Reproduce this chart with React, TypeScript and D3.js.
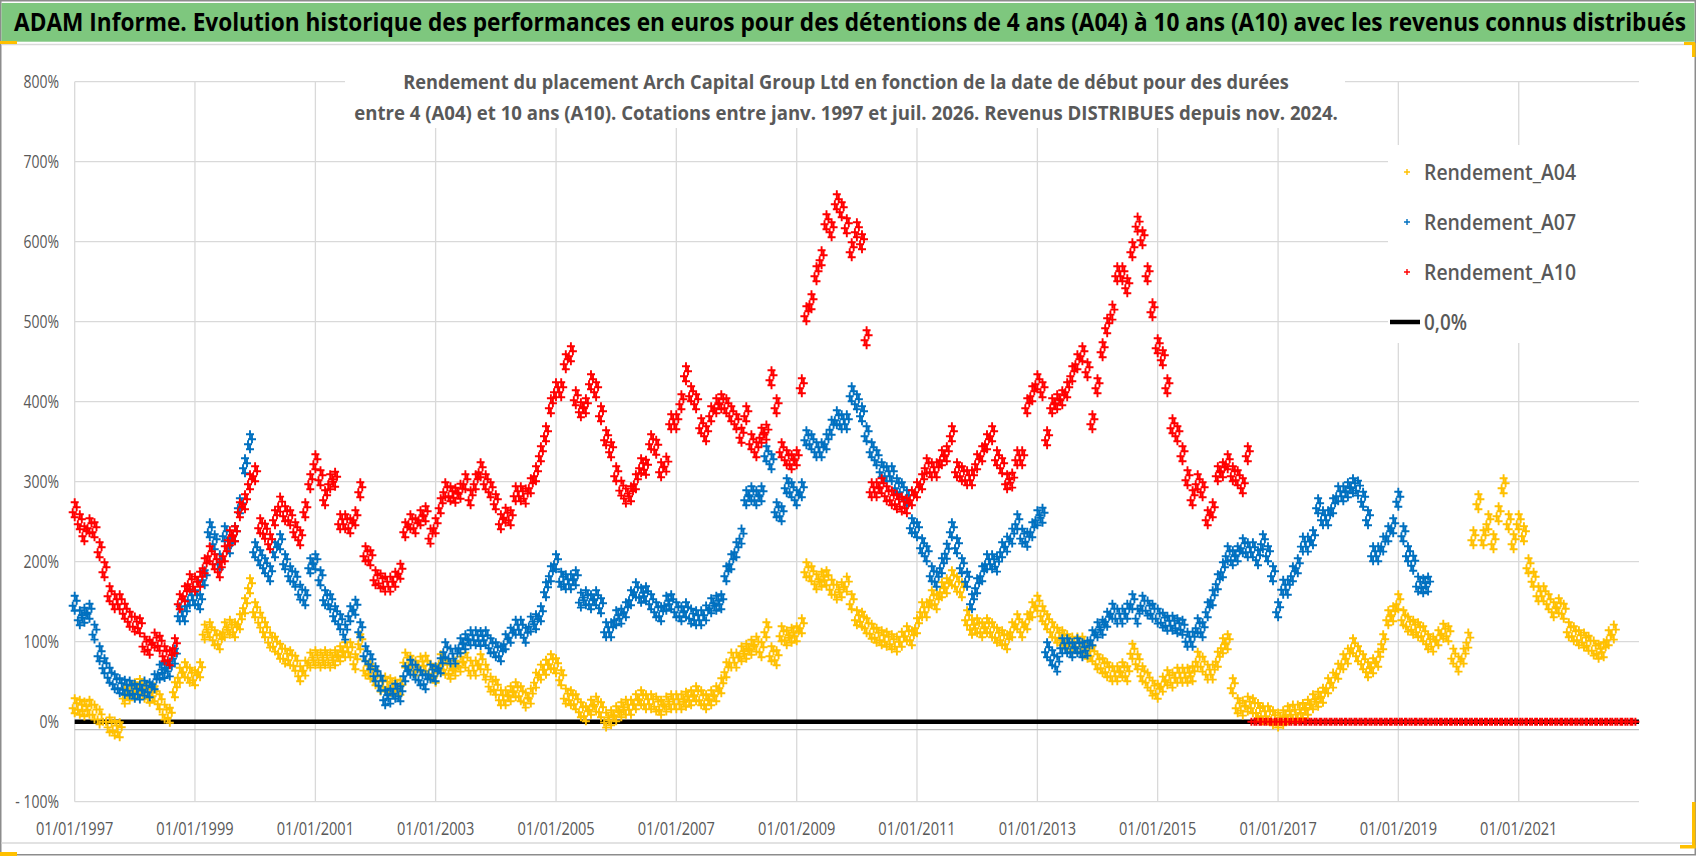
import React, { useLayoutEffect, useRef, useState } from "react";
import * as d3 from "d3";

const W = 1698;
const H = 856;
const FONT = "'Open Sans', 'Noto Sans', sans-serif";

const MONTH0 = new Date(1997, 0, 1);
const X_END = new Date(2023, 0, 1);
const TICK_YEARS = [1997, 1999, 2001, 2003, 2005, 2007, 2009, 2011, 2013, 2015, 2017, 2019, 2021];
const Y_TICKS = [-100, 0, 100, 200, 300, 400, 500, 600, 700, 800];
const AXIS_CROSS = -10;

const TITLE = "ADAM Informe. Evolution historique des performances en euros pour des détentions de 4 ans (A04) à 10 ans (A10) avec les revenus connus distribués";
const SUBTITLE_1 = "Rendement du placement Arch Capital Group Ltd en fonction de la date de début pour des durées";
const SUBTITLE_2 = "entre 4 (A04) et 10 ans (A10). Cotations entre janv. 1997 et juil. 2026. Revenus DISTRIBUES depuis nov. 2024.";

// Monthly readings (%), first value = January 1997
const RENDEMENT_A04 = [
  20, 18, 16, 18, 12, 6, 0, -4, -8, -10, 32, 36,
  40, 44, 38, 33, 35, 25, 12, 8, 40, 58, 65, 58,
  55, 65, 112, 115, 105, 100, 115, 118, 115, 125, 145, 170,
  140, 127, 115, 102, 97, 88, 82, 80, 73, 60, 67, 77,
  80, 77, 80, 77, 80, 85, 90, 90, 75, 100, 67, 63,
  55, 47, 47, 45, 42, 43, 77, 73, 67, 72, 73, 63,
  58, 75, 68, 63, 67, 72, 77, 67, 67, 75, 62, 47,
  43, 30, 30, 35, 40, 35, 27, 32, 52, 62, 68, 75,
  70, 55, 32, 30, 25, 15, 10, 18, 22, 15, 2, 5,
  10, 15, 18, 18, 25, 30, 25, 25, 22, 18, 22, 25,
  25, 25, 28, 30, 35, 30, 25, 30, 35, 45, 65, 77,
  77, 85, 88, 93, 97, 90, 115, 85, 80, 110, 105, 108,
  110, 120, 190, 185, 175, 178, 180, 168, 162, 165, 172, 150,
  130, 128, 120, 113, 108, 105, 103, 100, 97, 103, 110, 105,
  120, 140, 140, 155, 150, 165, 170, 180, 172, 165, 130, 118,
  120, 115, 120, 115, 108, 105, 100, 115, 125, 115, 125, 140,
  148, 135, 125, 115, 108, 105, 100, 97, 97, 97, 88, 85,
  75, 70, 65, 60, 60, 65, 60, 88, 75, 60, 52, 42,
  38, 47, 55, 52, 58, 58, 58, 60, 78, 72, 62, 62,
  78, 95, 100, 45, 20, 17, 22, 20, 14, 10, 10, 5,
  2, 5, 10, 12, 12, 14, 18, 25, 28, 33, 45, 52,
  63, 75, 82, 95, 85, 75, 65, 70, 78, 100, 130, 135,
  150, 130, 122, 118, 115, 110, 100, 97, 105, 113, 110, 82,
  72, 82, 102, 230, 275, 230, 250, 225, 260, 295, 250, 225,
  250, 235, 195, 178, 160, 160, 150, 140, 145, 138, 115, 110,
  105, 102, 98, 92, 88, 90, 105, 112,
];

const RENDEMENT_A07 = [
  148, 130, 133, 138, 112, 85, 70, 58, 50, 45, 43, 42,
  38, 37, 42, 40, 50, 62, 64, 66, 82, 135, 135, 155,
  155, 150, 180, 240, 225, 200, 235, 220, 235, 270, 320, 350,
  215, 205, 195, 185, 215, 225, 200, 185, 178, 162, 155, 195,
  200, 180, 155, 150, 135, 125, 112, 135, 143, 115, 85, 75,
  60, 48, 30, 32, 38, 35, 60, 68, 62, 55, 50, 62,
  60, 70, 90, 82, 82, 95, 100, 105, 105, 104, 105, 95,
  90, 85, 100, 108, 118, 118, 108, 122, 125, 135, 165, 185,
  200, 178, 175, 175, 180, 152, 155, 150, 155, 145, 115, 115,
  130, 132, 140, 155, 165, 158, 160, 150, 140, 135, 148, 150,
  140, 135, 140, 132, 130, 130, 136, 145, 148, 150, 185, 200,
  215, 232, 280, 285, 280, 285, 335, 325, 265, 260, 295, 290,
  280, 290, 355, 350, 340, 340, 350, 368, 380, 375, 375, 410,
  400, 385, 360, 340, 330, 315, 310, 310, 295, 290, 280, 245,
  240, 220, 210, 185, 178, 195, 213, 240, 220, 195, 178, 150,
  170, 185, 200, 200, 197, 215, 222, 232, 250, 232, 228, 240,
  255, 258, 90, 80, 72, 95, 95, 90, 95, 90, 92, 105,
  115, 118, 128, 138, 132, 132, 138, 150, 132, 148, 142, 138,
  132, 127, 123, 123, 120, 118, 103, 103, 120, 115, 140, 155,
  175, 190, 210, 205, 210, 220, 215, 215, 205, 225, 210, 185,
  140, 168, 168, 185, 195, 222, 222, 230, 270, 255, 255, 270,
  285, 285, 290, 295, 292, 278, 255, 210, 210, 222, 235, 245,
  278, 235, 210, 198, 172, 170, 172,
];

const RENDEMENT_A10 = [
  265, 250, 235, 245, 240, 215, 190, 160, 150, 150, 138, 128,
  122, 120, 97, 93, 102, 98, 85, 80, 95, 150, 160, 175,
  172, 178, 195, 210, 200, 190, 210, 230, 235, 265, 275, 300,
  310, 245, 238, 225, 255, 272, 260, 255, 240, 230, 265, 300,
  325, 305, 280, 300, 303, 250, 250, 245, 255, 290, 210, 205,
  180, 176, 172, 172, 178, 188, 240, 250, 245, 255, 260, 232,
  245, 270, 290, 285, 283, 288, 300, 280, 300, 315, 300, 290,
  275, 250, 258, 255, 285, 285, 282, 295, 310, 335, 360, 395,
  415, 415, 450, 460, 405, 390, 395, 425, 415, 385, 355, 340,
  310, 292, 282, 285, 300, 320, 318, 350, 343, 315, 322, 375,
  375, 400, 435, 410, 400, 370, 360, 385, 395, 400, 395, 385,
  375, 358, 385, 350, 340, 358, 362, 430, 395, 340, 330, 325,
  330, 420, 510, 525, 560, 580, 625, 615, 650, 640, 620, 590,
  615, 600, 480, 290, 290, 295, 285, 280, 275, 272, 270, 280,
  290, 300, 320, 315, 315, 330, 335, 360, 315, 310, 305, 305,
  325, 335, 350, 360, 330, 320, 300, 302, 330, 330, 395, 410,
  425, 415, 355, 395, 400, 405, 415, 435, 450, 460, 440, 375,
  420, 465, 495, 512, 560, 560, 545, 590, 622, 605, 560, 515,
  470, 455, 420, 370, 360, 335, 305, 280, 300, 290, 255, 265,
  310, 315, 325, 310, 305, 295, 335,
  0, 0, 0, 0, 0,
  0, 0, 0, 0, 0, 0, 0, 0, 0, 0, 0, 0,
  0, 0, 0, 0, 0, 0, 0, 0, 0, 0, 0, 0,
  0, 0, 0, 0, 0, 0, 0, 0, 0, 0, 0, 0,
  0, 0, 0, 0, 0, 0, 0, 0, 0, 0, 0, 0,
  0, 0, 0, 0, 0, 0, 0, 0, 0, 0, 0, 0,
  0, 0, 0, 0, 0, 0, 0, 0, 0, 0, 0, 0,
];

const SERIES_NAMES = ["Rendement_A04", "Rendement_A07", "Rendement_A10"];
const SERIES_COLORS = ["#FFC000", "#0070C0", "#FF0000"];
const SERIES_VALUES = [RENDEMENT_A04, RENDEMENT_A07, RENDEMENT_A10];
const ZERO_LABEL = "0,0%";

// glyph: each monthly reading stands for a month of daily points
const CLUSTER: [number, number][] = [[0, -7.5], [2, -2.5], [-2, 2.5], [0, 7.5]];
const FLAT: [number, number][] = [[-1.5, 0], [1.5, 0]];

type FitProps = {
  x: number;
  y: number;
  width: number;
  anchor?: "start" | "middle" | "end";
  fontSize: number;
  fontWeight?: number;
  fill: string;
  children: string;
};

function FitText({ x, y, width, anchor = "start", fontSize, fontWeight = 400, fill, children }: FitProps) {
  const ref = useRef<SVGTextElement>(null);
  const [s, setS] = useState(1);
  useLayoutEffect(() => {
    const measure = () => {
      if (ref.current) {
        const w = ref.current.getComputedTextLength();
        if (w > 0) setS(width / w);
      }
    };
    measure();
    if ((document as any).fonts && (document as any).fonts.ready) {
      (document as any).fonts.ready.then(measure);
    }
  }, [width, children]);
  return (
    <text ref={ref} transform={`translate(${x},${y}) scale(${s},1)`} textAnchor={anchor} fontSize={fontSize} fontWeight={fontWeight} fill={fill}>
      {children}
    </text>
  );
}

export default function App() {
  const x = d3.scaleTime().domain([MONTH0, X_END]).range([74.7, 1639]);
  const y = d3.scaleLinear().domain([-100, 800]).range([801.7, 81.7]);
  const [x0, x1] = x.range();
  const fmtDate = d3.timeFormat("%d/%m/%Y");
  const fmtPct = (v: number) => (v < 0 ? `- ${Math.abs(v)}%` : `${v}%`);

  const seriesPaths = SERIES_VALUES.map((vals) => {
    let d = "";
    vals.forEach((v, i) => {
      const cx = x(d3.timeMonth.offset(MONTH0, i));
      const cy = y(v);
      const offs = v === 0 ? FLAT : CLUSTER;
      offs.forEach(([dx, dy]) => {
        const px = cx + dx;
        const py = cy + dy;
        d += `M${(px - 4).toFixed(1)},${py.toFixed(1)}h8M${px.toFixed(1)},${(py - 4).toFixed(1)}v8`;
      });
    });
    return d;
  });

  const grid = "#D9D9D9";
  const txt = "#595959";
  const legendMarkX = 1407;
  const legendTextX = 1424;
  const legendY0 = 172;
  const legendStep = 50;

  return (
    <svg width={W} height={H} viewBox={`0 0 ${W} ${H}`} style={{ position: "absolute", left: 0, top: 0, display: "block", background: "#fff" }} fontFamily={FONT}>
      <rect x={0} y={0} width={W} height={H} fill="#ffffff" />
      {/* frame */}
      <rect x={0.75} y={0.75} width={1694.5} height={854} fill="none" stroke="#8C8C8C" strokeWidth={1.5} />
      <rect x={1.5} y={3} width={1693} height={38.7} fill="#7EC77E" />
      <line x1={1.5} x2={1695} y1={44.5} y2={44.5} stroke={grid} strokeWidth={1.5} />
      <line x1={1.5} x2={1695} y1={843} y2={843} stroke={grid} strokeWidth={1.5} />
      <FitText x={850} y={31} width={1672} anchor="middle" fontSize={24.5} fontWeight={700} fill="#000">
        {TITLE}
      </FitText>

      {/* gridlines */}
      {Y_TICKS.map((v) => (
        <line key={"gy" + v} x1={x0} x2={x1} y1={y(v)} y2={y(v)} stroke={grid} strokeWidth={1.3} />
      ))}
      {TICK_YEARS.map((yr) => {
        const px = x(new Date(yr, 0, 1));
        return <line key={"gx" + yr} x1={px} x2={px} y1={y(800)} y2={y(-100)} stroke={grid} strokeWidth={1.3} />;
      })}
      <line x1={x0} x2={x1} y1={y(AXIS_CROSS)} y2={y(AXIS_CROSS)} stroke="#BFBFBF" strokeWidth={1.3} />

      {/* subtitle box */}
      <rect x={345} y={62} width={1000} height={66} fill="#fff" />
      <FitText x={846} y={88.5} width={886} anchor="middle" fontSize={19.5} fontWeight={700} fill={txt}>
        {SUBTITLE_1}
      </FitText>
      <FitText x={846} y={119.5} width={984} anchor="middle" fontSize={19.5} fontWeight={700} fill={txt}>
        {SUBTITLE_2}
      </FitText>

      {/* y labels */}
      {Y_TICKS.map((v) => (
        <text key={"ly" + v} transform={`translate(59,${y(v) + 6.3}) scale(0.8,1)`} textAnchor="end" fontSize={17.5} fill={txt}>
          {fmtPct(v)}
        </text>
      ))}
      {/* x labels */}
      {TICK_YEARS.map((yr) => {
        const d = new Date(yr, 0, 1);
        return (
          <text key={"lx" + yr} transform={`translate(${x(d)},835) scale(0.81,1)`} textAnchor="middle" fontSize={18} fill={txt}>
            {fmtDate(d)}
          </text>
        );
      })}

      {/* 0% line */}
      <line x1={x0} x2={x1} y1={y(0)} y2={y(0)} stroke="#000" strokeWidth={4.5} />

      {/* series */}
      {seriesPaths.map((d, i) => (
        <path key={"s" + i} d={d} fill="none" stroke={SERIES_COLORS[i]} strokeWidth={1.9} />
      ))}

      {/* legend */}
      <rect x={1388} y={145} width={253} height={198} fill="#fff" />
      {SERIES_NAMES.map((name, i) => {
        const cy = legendY0 + i * legendStep;
        return (
          <g key={"lg" + i}>
            <path d={`M${legendMarkX - 3},${cy}h6M${legendMarkX},${cy - 3}v6`} stroke={SERIES_COLORS[i]} strokeWidth={1.4} />
            <FitText x={legendTextX} y={cy + 7.5} width={152} fontSize={21.5} fontWeight={600} fill={txt}>
              {name}
            </FitText>
          </g>
        );
      })}
      <line x1={1390} x2={1420} y1={legendY0 + 3 * legendStep} y2={legendY0 + 3 * legendStep} stroke="#000" strokeWidth={4.5} />
      <FitText x={legendTextX} y={legendY0 + 3 * legendStep + 7.5} width={43} fontSize={21.5} fontWeight={600} fill={txt}>
        {ZERO_LABEL}
      </FitText>

      {/* selection marks */}
      <rect x={0} y={41} width={17} height={3} fill="#FFC000" />
      <rect x={0} y={852} width={17} height={4} fill="#FFC000" />
      <rect x={1692} y={802} width={3.5} height={46} fill="#FFC000" />
      <rect x={1680} y={845} width={15.5} height={3.5} fill="#FFC000" />
      <rect x={1692} y={43} width={3.5} height={14} fill="#FFC000" />
      <rect x={1684} y={42} width={11} height={3} fill="#FFC000" />
    </svg>
  );
}
